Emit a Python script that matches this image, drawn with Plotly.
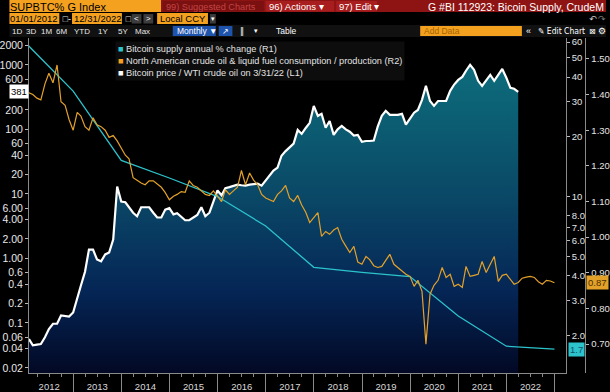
import math
import pandas as pd
import plotly.graph_objects as go

# ---------------- data ----------------
# Bitcoin price / WTI crude oil (L1), month-end, Jan 2012 .. Mar 2022
btc_wti = [0.056, 0.045, 0.046, 0.047, 0.06, 0.08, 0.097, 0.097, 0.13, 0.127, 0.125, 0.145,
           0.23, 0.38, 0.62, 1.37, 1.37, 0.96, 0.9, 1.15, 1.23, 1.95, 13.0, 7.6,
           7.4, 6.2, 5.1, 4.5, 6.2, 6.2, 6.2, 5.1, 4.3, 4.3, 5.7, 6.0,
           4.8, 5.0, 4.4, 3.9, 3.9, 4.3, 4.7, 6.2, 4.5, 5.1, 7.6, 11.3,
           9.5, 12.2, 12.7, 13.4, 13.9, 13.6, 13.4, 13.9, 14.1, 14.4, 13.4, 16.0,
           19.7, 23.0, 25.6, 39.0, 46.0, 52.0, 60.0, 98.0, 85.0, 105.0, 126.0, 231.0,
           162.0, 174.0, 106.0, 135.0, 82.0, 100.0, 113.0, 100.0, 92.0, 80.0, 82.0, 64.0,
           66.0, 66.0, 67.0, 110.0, 162.0, 194.0, 168.0, 168.0, 168.0, 174.0, 118.0, 147.0,
           181.0, 200.0, 287.0, 472.0, 275.0, 231.0, 275.0, 275.0, 275.0, 395.0, 495.0, 584.0,
           650.0, 810.0, 1000.0, 835.0, 565.0, 472.0, 584.0, 700.0, 565.0, 720.0, 864.0, 630.0,
           440.0, 425.0, 381.0]

# North American crude oil & liquid fuel consumption / production (R2), Jan 2012 .. Dec 2022
na_ratio = [1.405, 1.40, 1.39, 1.385, 1.43, 1.46, 1.433, 1.483, 1.38, 1.37, 1.33, 1.30,
            1.35, 1.34, 1.31, 1.30, 1.335, 1.315, 1.31, 1.30, 1.28, 1.285, 1.27, 1.25,
            1.23, 1.22, 1.167, 1.16, 1.152, 1.147, 1.158, 1.158, 1.15, 1.14, 1.125, 1.105,
            1.115, 1.12, 1.128, 1.126, 1.158, 1.145, 1.14, 1.13, 1.12, 1.117, 1.13, 1.115,
            1.10, 1.133, 1.12, 1.13, 1.14, 1.187, 1.147, 1.18, 1.16, 1.147, 1.12, 1.11,
            1.105, 1.10, 1.12, 1.13, 1.145, 1.11, 1.10, 1.117, 1.09, 1.07, 1.041, 1.055,
            1.069, 1.002, 1.016, 1.008, 1.02, 1.027, 0.994, 0.975, 0.957, 0.974, 0.93, 0.924,
            0.946, 0.937, 0.92, 0.915, 0.918, 0.935, 0.952, 0.924, 0.915, 0.905, 0.896, 0.89,
            0.862, 0.879, 0.848, 0.70, 0.84, 0.865, 0.879, 0.915, 0.887, 0.896, 0.862, 0.868,
            0.859, 0.918, 0.89, 0.893, 0.896, 0.932, 0.901, 0.924, 0.946, 0.876, 0.893, 0.896,
            0.88, 0.868, 0.873, 0.885, 0.888, 0.89, 0.887, 0.875, 0.868, 0.879, 0.877, 0.872]

# Bitcoin supply annual % change (R1), year-end
supply_years = list(range(2011, 2023))
supply_chg = [60.0, 34.0, 15.2, 12.4, 10.0, 7.1, 4.4, 4.15, 3.95, 2.5, 1.76, 1.70]

L1_ticks = [0.02, 0.04, 0.06, 0.1, 0.2, 0.4, 0.6, 1, 2, 4, 6, 10, 20, 40, 60, 100, 200, 600, 1000, 2000]
L1_text = ['0.02', '0.04', '0.06', '0.1', '0.2', '0.4', '0.6', '1.00', '2.00', '4.00', '6.00',
           '10', '20', '40', '60', '100', '200', '600', '1000', '2000']
R1_ticks = [2, 3, 4, 5, 6, 7, 8, 10, 20, 30, 40, 50, 60]
R1_text = ['2.0', '3.0', '4.0', '5.0', '6.0', '7.0', '8.0', '10', '20', '30', '40', '50', '60']
R2_ticks = [0.7, 0.8, 0.9, 1.0, 1.1, 1.2, 1.3, 1.4, 1.5]
R2_text = ['%.2f' % v for v in R2_ticks]

# ---------------- layout geometry ----------------
W, H = 610, 392
ML, MT, MR, MB = 20, 38, 0, 18
PW = W - ML - MR
PH = H - MT - MB
X_R1 = 569
X_R2 = 589


def px(X):
    return (X - ML) / PW


def py(Y):
    return (H - MB - Y) / PH


def month_ends(n):
    return pd.date_range('2012-02-01', periods=n, freq='MS') - pd.Timedelta(days=1)


d_white = month_ends(len(btc_wti))
d_orange = month_ends(len(na_ratio))
d_teal = pd.to_datetime(['%d-12-31' % y for y in supply_years])

TEAL = '#2cc3cc'
ORANGE = '#e3a12a'
BB_ORANGE = '#f3a11f'
FONT = 'Liberation Sans, Arial, sans-serif'

fig = go.Figure()

fig.add_trace(go.Scatter(
    x=d_white, y=btc_wti, yaxis='y', mode='lines',
    line=dict(color='white', width=2.2), fill='tozeroy',
    fillgradient=dict(type='vertical',
                      colorscale=[[0, '#020824'], [0.25, '#052656'], [0.52, '#0a4766'],
                                  [0.82, '#0c6476'], [1, '#0f7282']],
                      start=10 ** -1.777, stop=10 ** 3.416),
    showlegend=False, hoverinfo='skip'))

fig.add_trace(go.Scatter(
    x=d_teal, y=supply_chg, yaxis='y2', mode='lines',
    line=dict(color=TEAL, width=1.3), showlegend=False))

fig.add_trace(go.Scatter(
    x=d_orange, y=na_ratio, yaxis='y3', mode='lines',
    line=dict(color=ORANGE, width=1.2), showlegend=False))

axis_font = dict(family=FONT, size=9.5, color='#e4e4e4')

fig.update_layout(
    width=W, height=H,
    margin=dict(l=ML, r=MR, t=MT, b=MB, pad=0),
    paper_bgcolor='black', plot_bgcolor='black',
    font=dict(family=FONT, color='#e4e4e4'),
    xaxis=dict(domain=[0, px(X_R1)], type='date',
               range=['2012-01-31', '2023-03-28'],
               dtick='M12', tick0='2012-01-01', tickformat='%Y', ticklabelmode='period',
               ticks='outside', ticklen=18, tickcolor='#8a8a8a', tickwidth=1,
               ticklabelstandoff=-13,
               minor=dict(dtick='M3', ticks='outside', ticklen=3, tickcolor='#8a8a8a'),
               showline=True, linecolor='#8a8a8a', linewidth=1,
               showgrid=False, zeroline=False, tickfont=dict(family=FONT, size=9.5, color='#d8d8d8')),
    yaxis=dict(type='log', range=[-1.777, 3.416], side='left',
               tickvals=L1_ticks, ticktext=L1_text, ticks='outside', ticklen=3,
               tickcolor='#bbbbbb', showline=True, linecolor='#8a8a8a',
               showgrid=False, zeroline=False, tickfont=dict(family=FONT, size=10.5, color='#e8e8e8')),
    yaxis2=dict(type='log', range=[0.1106, 1.799], overlaying='y', side='right', anchor='x',
                tickvals=R1_ticks, ticktext=R1_text, ticks='outside', ticklen=3,
                tickcolor='#bbbbbb', showline=True, linecolor='#8a8a8a',
                showgrid=False, zeroline=False, tickfont=axis_font),
    yaxis3=dict(type='linear', range=[0.619, 1.5587], overlaying='y', side='right',
                anchor='free', position=px(X_R2),
                tickvals=R2_ticks, ticktext=R2_text, ticks='outside', ticklen=3,
                tickcolor='#bbbbbb', showline=True, linecolor='#8a8a8a',
                showgrid=False, zeroline=False, tickfont=axis_font),
    showlegend=False,
)

shapes = []
annotations = []


def rect(x0, y0, x1, y1, color):
    shapes.append(dict(type='rect', xref='paper', yref='paper',
                       x0=px(x0), x1=px(x1), y0=py(y1), y1=py(y0),
                       fillcolor=color, line=dict(width=0), layer='above'))


def label(X, Y, text, color='white', size=9, anchor='left', family=None, **kw):
    annotations.append(dict(xref='paper', yref='paper', x=px(X), y=py(Y), text=text,
                            showarrow=False, xanchor=anchor, yanchor='middle',
                            font=dict(size=size, color=color, family=family or FONT),
                            borderpad=0, **kw))


# row 1
rect(0, 0, 155, 12, BB_ORANGE)
rect(155, 0, 610, 12, '#8e1414')
rect(157, 1, 260, 11.5, '#7a1010')
rect(262, 1, 332, 11.5, '#a81d1d')
rect(334, 1, 376, 11.5, '#a81d1d')
label(0, 6.5, 'SUPBTC% G Index', color='black', size=11)
label(159, 6.5, '99) Suggested Charts', color='#c24545', size=9.2)
label(264, 6.5, '96) Actions ▾', size=9.5)
label(336, 6.5, '97) Edit ▾', size=9.5)
label(609, 6.5, 'G #BI 112923: Bicoin Supply, CrudeM', size=10.5, anchor='right')

# row 2
rect(0, 13, 51, 24, BB_ORANGE)
rect(64, 13, 115, 24, BB_ORANGE)
rect(151, 13, 203, 24, BB_ORANGE)
rect(125, 14, 135, 23.5, '#3c3c3c')
rect(137, 14, 147, 23.5, '#3c3c3c')
rect(205, 14, 211, 23.5, '#3c3c3c')
label(0, 18.5, '01/01/2012', color='black', size=9.5)
label(53, 18.5, '□', color='#dddddd', size=7, family='DejaVu Sans')
label(59, 18.5, '-', color='white', size=9)
label(65, 18.5, '12/31/2022', color='black', size=9.5)
label(117, 18.5, '□', color='#dddddd', size=7, family='DejaVu Sans')
label(130, 18.5, '<', size=8, anchor='center')
label(142, 18.5, '>', size=8, anchor='center')
label(153, 18.5, 'Local CCY', color='black', size=9.5)
label(208, 18.5, '▾', size=7, anchor='center', family='DejaVu Sans')
label(597, 18.5, '↶', size=9, anchor='center', color='#cccccc', family='DejaVu Sans')
label(606, 18.5, '↷', size=9, anchor='center', color='#777777', family='DejaVu Sans')

# row 3
rect(0, 25, 610, 37, '#111111')
for X, t in [(2, '1D'), (16, '3D'), (31, '1M'), (47, '6M'), (65, 'YTD'), (90, '1Y'),
             (110, '5Y'), (127, 'Max')]:
    label(X, 31, t, size=8, color='#e6e6e6')
rect(167, 26, 211, 36, '#1f54ad')
label(170, 31, 'Monthly ▼', size=8.5)
rect(214, 26, 228, 36, '#1f54ad')
label(221, 31, '↗', size=8, anchor='center', family='DejaVu Sans')
label(238, 31, '‖', size=8, anchor='center', family='DejaVu Sans')
label(252, 31, '▾', size=7, anchor='center', family='DejaVu Sans')
label(272, 31, 'Table', size=8.5)
rect(420, 26, 524, 36, BB_ORANGE)
label(423, 31, 'Add Data', size=8.5, color='#a86400')
label(531, 31, '«', size=9, anchor='center')
label(539, 31, '✎ Edit Chart', size=8.5, family='DejaVu Sans Condensed, DejaVu Sans')
label(596, 31, '⊠', size=8, anchor='center', family='DejaVu Sans')
label(606, 31, '⚙', size=9, anchor='center', family='DejaVu Sans')

# legend block
legend_text = ("<span style='color:{t}'>■</span> Bitcoin supply annual % change (R1)<br>"
               "<span style='color:{o}'>■</span> North American crude oil &amp; liquid fuel consumption / production (R2)<br>"
               "<span style='color:#ffffff'>■</span> Bitcoin price / WTI crude oil on 3/31/22 (L1)").format(t=TEAL, o=BB_ORANGE)
annotations.append(dict(xref='paper', yref='paper', x=px(108), y=py(41), xanchor='left', yanchor='top',
                        text=legend_text, align='left', showarrow=False, bgcolor='#0d0d0d',
                        borderpad=2, font=dict(size=9.2, color='#e2e2e2', family=FONT)))

# last-value markers
annotations.append(dict(xref='paper', yref='y', x=0, y=math.log10(btc_wti[-1]),
                        xanchor='right', yanchor='middle', text='%d' % round(btc_wti[-1]),
                        showarrow=False, bgcolor='white', borderpad=1,
                        font=dict(size=9.5, color='black', family=FONT)))
annotations.append(dict(xref='paper', yref='y2', x=px(X_R1) + 2 / PW, y=math.log10(supply_chg[-1]),
                        xanchor='left', yanchor='middle', text='%.1f' % supply_chg[-1],
                        showarrow=False, bgcolor=TEAL, borderpad=1,
                        font=dict(size=9.5, color='#16506a', family=FONT)))
annotations.append(dict(xref='paper', yref='y3', x=px(X_R2) + 1 / PW, y=na_ratio[-1],
                        xanchor='left', yanchor='middle', text='%.2f' % na_ratio[-1],
                        showarrow=False, bgcolor=ORANGE, borderpad=1,
                        font=dict(size=9.5, color='#4a3000', family=FONT)))

fig.update_layout(shapes=shapes, annotations=annotations)
fig.write_html('out.html', config={'displayModeBar': False},
               post_script="document.body.style.margin='0';document.body.style.overflow='hidden';")
